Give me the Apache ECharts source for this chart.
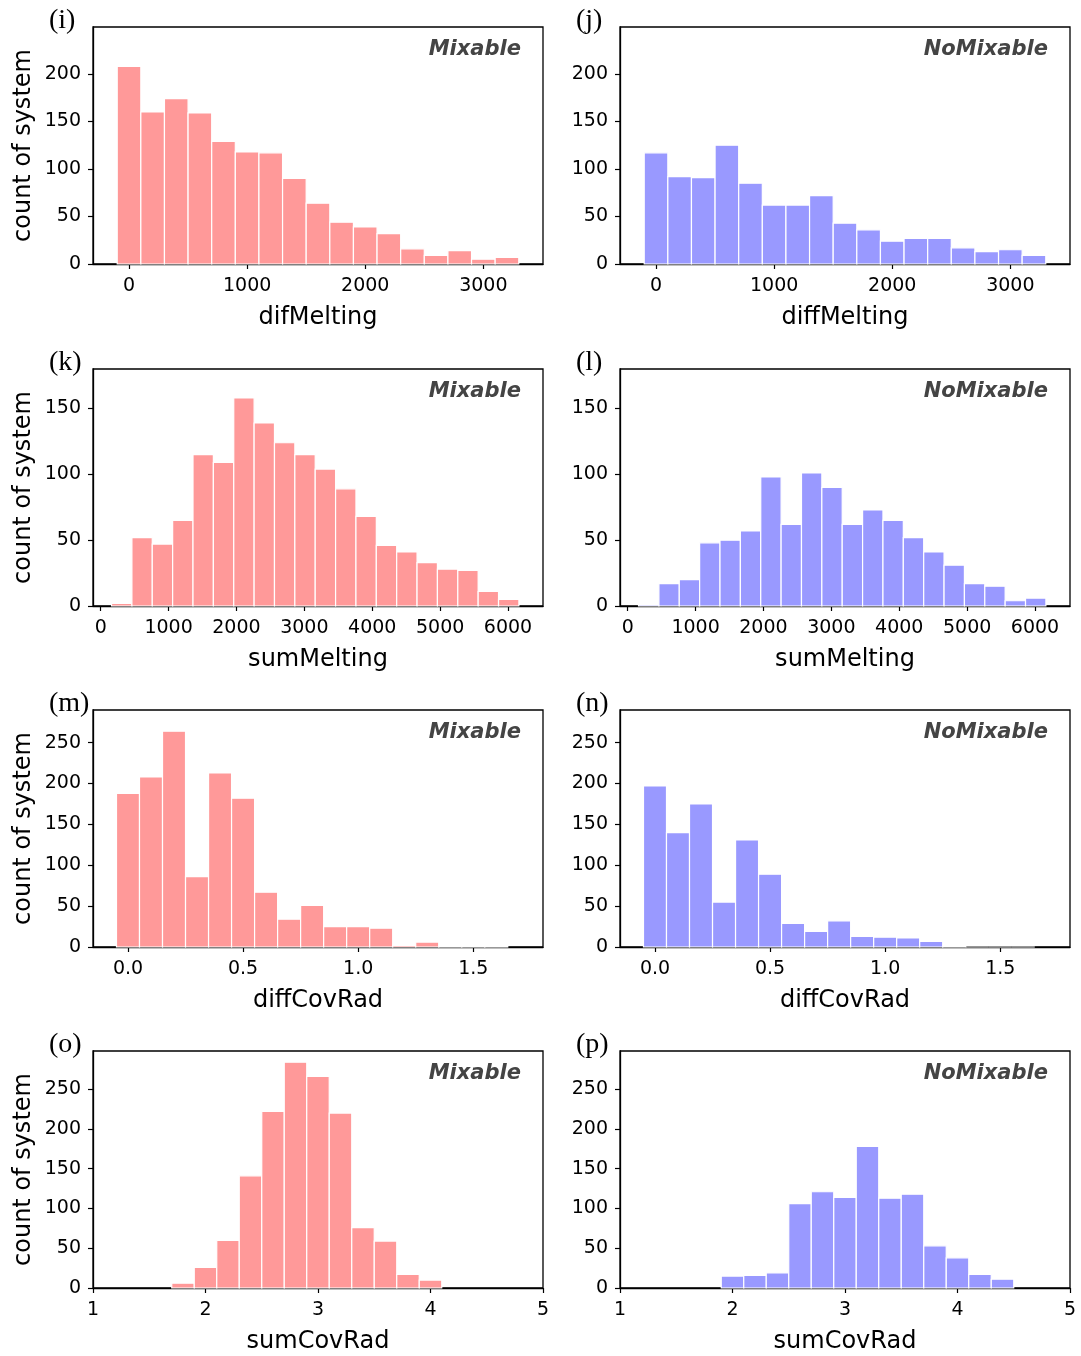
<!DOCTYPE html>
<html>
<head>
<meta charset="utf-8">
<script src="https://cdn.jsdelivr.net/npm/echarts@6/dist/echarts.min.js"></script>
<style>
  html, body { margin: 0; padding: 0; background: #fff; }
  #main { width: 1081px; height: 1356px; }
</style>
</head>
<body>
<div id="main"></div>
<script>
// histogram counts
var mixDifMelting  = [208,160,174,159,129,118,117,90,64,44,39,32,16,9,14,5,7];
var noDiffMelting  = [117,92,91,125,85,62,62,72,43,36,24,27,27,17,13,15,9];
var mixSumMelting  = [2,52,47,65,115,109,158,139,124,115,104,89,68,46,41,33,28,27,11,5];
var noSumMelting   = [1,17,20,48,50,57,98,62,101,90,62,73,65,52,41,31,17,15,4,6];
var mixDiffCovRad  = [188,208,264,86,213,182,67,34,51,25,25,23,2,6,1,1,1];
var noDiffCovRad   = [197,140,175,55,131,89,29,19,32,13,12,11,7,1,0,0,0];
var mixSumCovRad   = [6,26,60,141,222,284,266,220,76,59,17,10];
var noSumCovRad    = [15,16,19,106,121,114,178,113,118,53,38,17,11];

// bin edges: [first edge, bin width]
var binMelting     = [-100, 200];
var binSumMelting  = [160, 300];
var binDiffCov     = [-0.05, 0.1];
var binSumCovMix   = [1.7, 0.2];
var binSumCovNo    = [1.9, 0.2];

// tick labels
var ticksDifMelting = [0,1000,2000,3000];
var ticksSumMelting = [0,1000,2000,3000,4000,5000,6000];
var ticksDiffCov    = [0,0.5,1,1.5];
var ticksSumCov     = [1,2,3,4,5];
var yTicks200 = [0,50,100,150,200];
var yTicks150 = [0,50,100,150];
var yTicks250 = [0,50,100,150,200,250];

var PINK = '#ff9999', BLUE = '#9999ff';

var panels = [
  {tag:'(i)', kind:'Mixable',   xname:'difMelting',  counts:mixDifMelting, bin:binMelting,    color:PINK, xr:[-305,3505], xt:ticksDifMelting, ymax:249.5, yt:yTicks200},
  {tag:'(j)', kind:'NoMixable', xname:'diffMelting', counts:noDiffMelting, bin:binMelting,    color:BLUE, xr:[-305,3505], xt:ticksDifMelting, ymax:249.5, yt:yTicks200},
  {tag:'(k)', kind:'Mixable',   xname:'sumMelting',  counts:mixSumMelting, bin:binSumMelting, color:PINK, xr:[-113,6515], xt:ticksSumMelting, ymax:180, yt:yTicks150},
  {tag:'(l)', kind:'NoMixable', xname:'sumMelting',  counts:noSumMelting,  bin:binSumMelting, color:BLUE, xr:[-113,6515], xt:ticksSumMelting, ymax:180, yt:yTicks150},
  {tag:'(m)', kind:'Mixable',   xname:'diffCovRad',  counts:mixDiffCovRad, bin:binDiffCov,    color:PINK, xr:[-0.152,1.803], xt:ticksDiffCov, ymax:290, yt:yTicks250, fix:1},
  {tag:'(n)', kind:'NoMixable', xname:'diffCovRad',  counts:noDiffCovRad,  bin:binDiffCov,    color:BLUE, xr:[-0.152,1.803], xt:ticksDiffCov, ymax:290, yt:yTicks250, fix:1},
  {tag:'(o)', kind:'Mixable',   xname:'sumCovRad',   counts:mixSumCovRad,  bin:binSumCovMix,  color:PINK, xr:[1,5], xt:ticksSumCov, ymax:298, yt:yTicks250},
  {tag:'(p)', kind:'NoMixable', xname:'sumCovRad',   counts:noSumCovRad,   bin:binSumCovNo,   color:BLUE, xr:[1,5], xt:ticksSumCov, ymax:298, yt:yTicks250}
];

var lefts = [93, 620];
var tops = [27, 369, 710, 1051];
var W = 450, H = 237;
var FONT = 'DejaVu Sans';

var grids = [], xAxes = [], yAxes = [], series = [], graphics = [];

panels.forEach(function (p, i) {
  var col = i % 2, row = Math.floor(i / 2);
  var gl = lefts[col], gt = tops[row];
  grids.push({left: gl, top: gt, width: W, height: H, show: true,
    borderColor: '#000', borderWidth: 1.3, backgroundColor: 'transparent'});

  xAxes.push({
    type: 'value', gridIndex: i, min: p.xr[0], max: p.xr[1],
    name: p.xname, nameLocation: 'middle', nameGap: 42,
    nameTextStyle: {fontSize: 24, color: '#000', fontFamily: FONT},
    axisLine: {show: true, onZero: false, lineStyle: {color: '#000', width: 1.3}},
    axisTick: {show: true, length: 5, customValues: p.xt, lineStyle: {color: '#000', width: 1.2}},
    axisLabel: {customValues: p.xt, fontSize: 19, color: '#000', fontFamily: FONT, margin: 13,
      formatter: function (v) { return p.fix ? v.toFixed(p.fix) : String(v); }},
    splitLine: {show: false}
  });

  var ya = {
    type: 'value', gridIndex: i, min: 0, max: p.ymax,
    axisLine: {show: true, onZero: false, lineStyle: {color: '#000', width: 1.3}},
    axisTick: {show: true, length: 5, customValues: p.yt, lineStyle: {color: '#000', width: 1.2}},
    axisLabel: {customValues: p.yt, fontSize: 19, color: '#000', fontFamily: FONT, margin: 12},
    splitLine: {show: false}
  };
  if (col === 0) {
    ya.name = 'count of system';
    ya.nameLocation = 'middle';
    ya.nameGap = 57;
    ya.nameTextStyle = {fontSize: 24, color: '#000', fontFamily: FONT};
  }
  yAxes.push(ya);

  var data = p.counts.map(function (c, k) {
    var x0 = p.bin[0] + k * p.bin[1];
    return [x0, x0 + p.bin[1], c];
  });
  series.push({
    type: 'custom', xAxisIndex: i, yAxisIndex: i, data: data,
    encode: {x: [0, 1], y: 2},
    renderItem: function (params, api) {
      var a = api.coord([api.value(0), api.value(2)]);
      var b = api.coord([api.value(1), 0]);
      return {type: 'rect',
        shape: {x: a[0], y: a[1], width: b[0] - a[0], height: b[1] - a[1]},
        style: {fill: p.color, stroke: '#fff', lineWidth: 1.2}};
    }
  });

  graphics.push({type: 'text', left: col === 0 ? 49 : 576, top: gt - 20,
    style: {text: p.tag, fontSize: 28, fontFamily: 'Liberation Serif', fill: '#000'}});
  graphics.push({type: 'text', right: 1081 - (gl + W - 22), top: gt + 12,
    style: {text: p.kind, fontSize: 21, fontWeight: 'bold', fontStyle: 'italic',
      fontFamily: FONT, fill: '#444'}});
});

var myChart = echarts.init(document.getElementById('main'));
myChart.setOption({
  animation: false,
  grid: grids,
  xAxis: xAxes,
  yAxis: yAxes,
  series: series,
  graphic: graphics
});
</script>
</body>
</html>
